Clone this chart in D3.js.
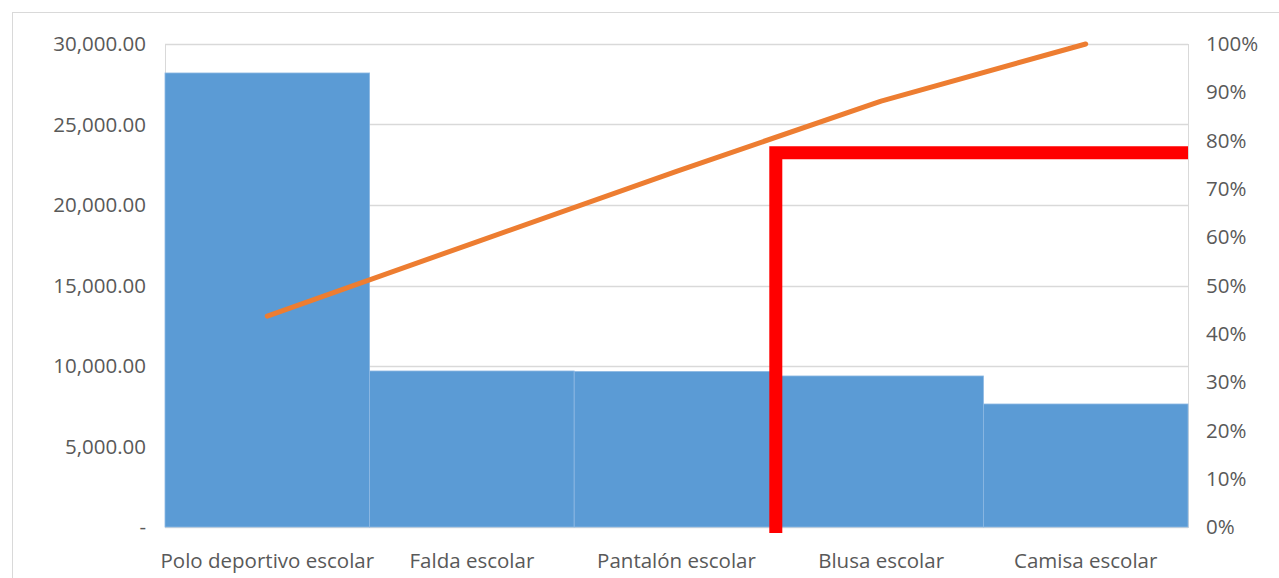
<!DOCTYPE html>
<html>
<head>
<meta charset="utf-8">
<script src="https://cdn.jsdelivr.net/npm/d3@7/dist/d3.min.js"></script>
<style>
  html, body { margin: 0; padding: 0; background: #fff; }
  svg text { font-family: "Open Sans", "Noto Sans", sans-serif; fill: #595959; }
</style>
</head>
<body>
<div id="container"></div>
<script>
// chart data
var categories = ["Polo deportivo escolar", "Falda escolar", "Pantalón escolar", "Blusa escolar", "Camisa escolar"];
var sales = [28200, 9690, 9660, 9380, 7640];
var leftTicks = [0, 5000, 10000, 15000, 20000, 25000, 30000];
var rightTicks = [0, 0.1, 0.2, 0.3, 0.4, 0.5, 0.6, 0.7, 0.8, 0.9, 1];
// red 80/20 cutoff marker: category boundary and cumulative share
var cutoffCategory = "Blusa escolar";
var cutoffShare = 0.775;

var w = 1279, h = 578;
var margin = { top: 44, right: 91, bottom: 51, left: 165 };

var svg = d3.select("#container")
  .append("svg")
  .attr("width", w)
  .attr("height", h);

// outer chart frame
svg.append("rect")
  .attr("x", 12.5).attr("y", 12.5)
  .attr("width", w).attr("height", h)
  .attr("fill", "none")
  .attr("stroke", "#d9d9d9");

var x = d3.scaleBand()
  .domain(categories)
  .range([margin.left, w - margin.right])
  .padding(0);

var y = d3.scaleLinear()
  .domain([0, 30000])
  .range([h - margin.bottom, margin.top]);

var yPct = d3.scaleLinear()
  .domain([0, 1])
  .range([h - margin.bottom, margin.top]);

// gridlines
svg.append("g")
  .selectAll("line")
  .data(leftTicks)
  .enter()
  .append("line")
  .attr("x1", margin.left).attr("x2", w - margin.right)
  .attr("y1", function(d) { return Math.round(y(d)) + 0.5; })
  .attr("y2", function(d) { return Math.round(y(d)) + 0.5; })
  .attr("stroke", "#d9d9d9")
  .attr("stroke-width", 1.5);

// plot area border
svg.append("rect")
  .attr("x", margin.left + 0.5).attr("y", margin.top + 0.5)
  .attr("width", w - margin.right - margin.left)
  .attr("height", h - margin.bottom - margin.top)
  .attr("fill", "none")
  .attr("stroke", "#d9d9d9");

// bars
svg.append("g")
  .selectAll("rect")
  .data(sales)
  .enter()
  .append("rect")
  .attr("x", function(d, i) { return x(categories[i]); })
  .attr("width", x.bandwidth())
  .attr("y", function(d) { return y(d); })
  .attr("height", function(d) { return y(0) - y(d); })
  .attr("fill", "#5b9bd5")
  .attr("stroke", "#8db8e3")
  .attr("stroke-width", 0.8);

// cumulative share line
var total = d3.sum(sales);
var running = 0;
var cumulative = sales.map(function(v) { running += v; return running / total; });

var line = d3.line()
  .x(function(d, i) { return x(categories[i]) + x.bandwidth() / 2; })
  .y(function(d) { return yPct(d); });

svg.append("path")
  .datum(cumulative)
  .attr("d", line)
  .attr("fill", "none")
  .attr("stroke", "#ed7d31")
  .attr("stroke-width", 5)
  .attr("stroke-linecap", "round")
  .attr("stroke-linejoin", "round");

// left axis labels
var fmt = d3.format(",.2f");
svg.append("g")
  .selectAll("text")
  .data(leftTicks)
  .enter()
  .append("text")
  .attr("x", 146)
  .attr("y", function(d) { return y(d); })
  .attr("dy", "0.35em")
  .attr("text-anchor", "end")
  .style("font-size", "20.5px")
  .text(function(d) { return d === 0 ? "-" : fmt(d); });

// right axis labels
svg.append("g")
  .selectAll("text")
  .data(rightTicks)
  .enter()
  .append("text")
  .attr("x", 1206)
  .attr("y", function(d) { return yPct(d); })
  .attr("dy", "0.35em")
  .attr("text-anchor", "start")
  .style("font-size", "20.5px")
  .text(function(d) { return d3.format(".0%")(d); });

// category labels
svg.append("g")
  .selectAll("text")
  .data(categories)
  .enter()
  .append("text")
  .attr("x", function(d) { return x(d) + x.bandwidth() / 2; })
  .attr("y", 561)
  .attr("dy", "0.35em")
  .attr("text-anchor", "middle")
  .style("font-size", "20.5px")
  .text(function(d) { return d; });

// red cutoff marker
var cx = x(cutoffCategory) - 3;
var cy = yPct(cutoffShare);
svg.append("path")
  .attr("d", d3.line()([[cx, y(0) + 6], [cx, cy], [w - margin.right, cy]]))
  .attr("fill", "none")
  .attr("stroke", "#ff0000")
  .attr("stroke-width", 13)
  .attr("stroke-linejoin", "miter");
</script>
</body>
</html>
